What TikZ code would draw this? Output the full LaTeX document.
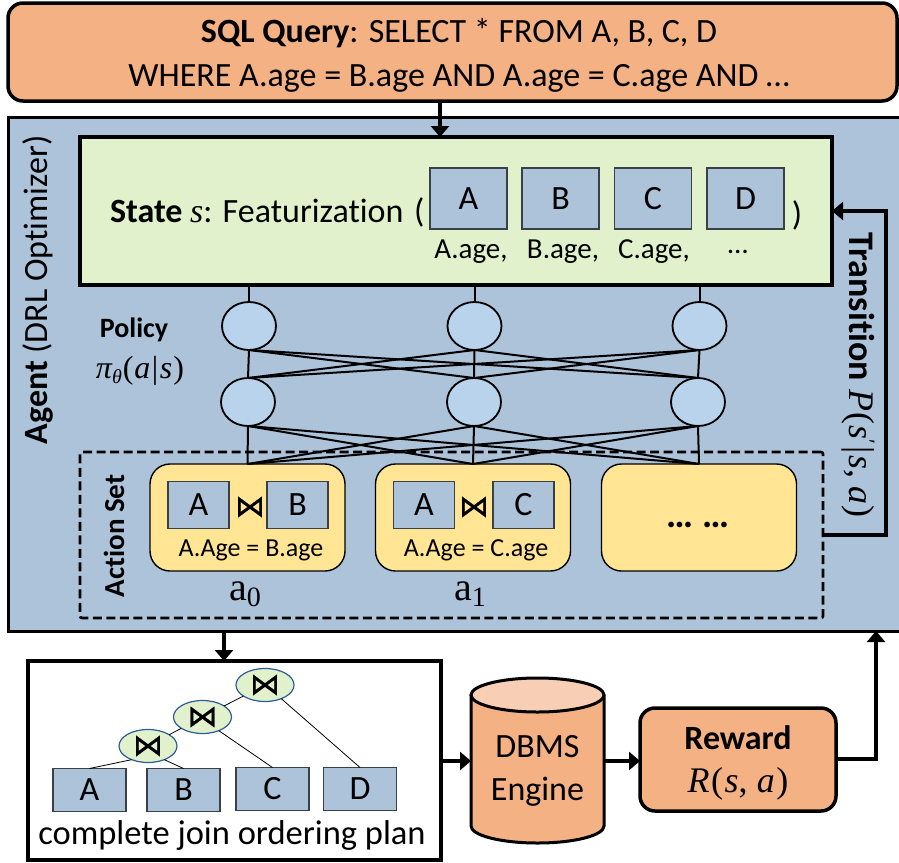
\documentclass[tikz,border=0pt]{standalone}
\usepackage{fontspec}
\setmainfont[Ligatures={NoCommon}]{Carlito}
\newfontfamily\mthf{Liberation Serif}
\newfontfamily\symf[FakeBold=0.7]{DejaVu Sans}
\newcommand{\fs}[1]{\fontsize{#1}{#1}\selectfont}
\newcommand{\mv}[1]{{\mthf\itshape #1}}
\newcommand{\mr}[1]{{\mthf #1}}
\newcommand{\lowtxt}[3]{\raisebox{-#1pt}{\fs{#2}#3}}
\definecolor{orangef}{HTML}{F4B183}
\definecolor{orangel}{HTML}{F8CFB5}
\definecolor{bluef}{HTML}{ADC3DA}
\definecolor{greenf}{HTML}{E0F1CB}
\definecolor{yellowf}{HTML}{FFE594}
\definecolor{circf}{HTML}{B8D3EB}
\definecolor{ellb}{HTML}{2F5D9A}
\definecolor{tabl}{HTML}{3A4048}
\tikzset{
  x=1pt,y=-1pt,
  every node/.style={inner sep=0pt,outer sep=0pt,text=black},
  orangebox/.style={draw=black,fill=orangef,rounded corners=15pt,line width=3.5pt},
  tabbox/.style={draw=tabl,fill=bluef,line width=1.2pt,font=\fs{34}},
  smalltab/.style={tabbox,minimum width=77pt,minimum height=61pt},
  acttab/.style={tabbox,minimum width=61pt,minimum height=47pt},
  plantab/.style={tabbox,minimum width=73pt,minimum height=43pt},
  neuron/.style={ellipse,draw=black,fill=circf,line width=1.8pt,minimum width=54pt,minimum height=48pt},
  actbox/.style={draw=black,fill=yellowf,rounded corners=20pt,line width=1.4pt,minimum width=195pt,minimum height=107pt},
  joinnode/.style={ellipse,draw=ellb,fill=greenf,line width=1.2pt,minimum width=58pt,minimum height=33pt,font=\fs{30}\symf},
  nnedge/.style={line width=2pt},
  treeedge/.style={line width=0.8pt},
  flow/.style={line width=3.5pt,-{Triangle[length=11pt,width=18pt]}},
}
\usetikzlibrary{arrows.meta,shapes.geometric}
\begin{document}
\begin{tikzpicture}
\useasboundingbox (0,0) rectangle (899,862);
\clip (0,0) rectangle (899,862);

% Query
\node[orangebox,minimum width=889pt,minimum height=98pt] (query) at (452.5,52) {};
\node[font=\fs{34},align=center] (querytext) at (459,55)
  {\textbf{SQL Query}: SELECT * FROM A, B, C, D\\[10pt]WHERE A.age = B.age AND A.age = C.age AND …};

% Agent panel
\node[fill=bluef,minimum width=899pt,minimum height=514pt] (agent) at (457.5,374) {};
\draw[line width=3pt] (906,117) -- (8,117) -- (8,631) -- (906,631);

\node[rotate=90,font=\fs{34}] (agentlabel) at (38,290) {\textbf{Agent} (DRL Optimizer)};

% State
\node[draw=black,fill=greenf,line width=4pt,minimum width=752pt,minimum height=148pt] (state) at (456,211) {};
\node[anchor=west,font=\fs{34}] (statelabel) at (110,212) {\textbf{State} \mv{s}: Featurization\kern3pt\ (};
\node[smalltab] (ta) at (468.5,198.5) {A};
\node[smalltab] (tb) at (560.5,198.5) {B};
\node[smalltab] (tc) at (653,198.5) {C};
\node[smalltab] (td) at (745.5,198.5) {D};
\node[font=\fs{34}] (close) at (797,215) {)};
\node[font=\fs{29}] (la) at (471,252) {A.age,};
\node[font=\fs{29}] (lb) at (563,252) {B.age,};
\node[font=\fs{29}] (lc) at (654,252) {C.age,};
\node[font=\fs{29}] (ld) at (738,252) {…};

% Action set
\node[draw=black,dashed,dash pattern=on 9pt off 4.5pt,line width=2.6pt,rounded corners=2pt,minimum width=743pt,minimum height=166pt] (actionset) at (451.5,535) {};
\node[rotate=90,font=\fs{29}\bfseries] (actionlabel) at (114,536) {Action Set};
\node[actbox] (a0) at (247.5,517.5) {};
\node[actbox] (a1) at (473,517.5) {};
\node[actbox] (a2) at (699,517.5) {};
\node[font=\fs{38}\bfseries] (adots) at (698,525) {… …};
\node[acttab] (a0a) at (198.5,505) {A};
\node[acttab] (a0b) at (297.5,505) {B};
\node[font=\fs{30}\symf] (a0j) at (250,507) {⋈};
\node[font=\fs{26}] (a0t) at (251,550) {A.Age = B.age};
\node[acttab] (a1a) at (424,505) {A};
\node[acttab] (a1c) at (523.5,505) {C};
\node[font=\fs{30}\symf] (a1j) at (474,507) {⋈};
\node[font=\fs{26}] (a1t) at (476,550) {A.Age = C.age};
\node[font=\fs{40}\mthf] (a0s) at (245,594) {a\lowtxt{6}{28}{0}};
\node[font=\fs{40}\mthf] (a1s) at (470,594) {a\lowtxt{6}{28}{1}};

% Network
\node[neuron] (p1) at (249,326) {};
\node[neuron] (p2) at (474.5,326) {};
\node[neuron] (p3) at (699.5,326) {};
\node[neuron] (q1) at (248,402) {};
\node[neuron] (q2) at (474,402) {};
\node[neuron] (q3) at (698,402) {};
\draw[nnedge] (p1.north) -- (p1.north |- state.south);
\draw[nnedge] (p2.north) -- (p2.north |- state.south);
\draw[nnedge] (p3.north) -- (p3.north |- state.south);
\foreach \i in {1,2,3}{\foreach \j in {1,2,3}{
  \draw[nnedge] (p\i.south) -- (q\j.north);
}}
\foreach \i in {1,2,3}{\foreach \j [evaluate=\j as \k using int(\j-1)] in {1,2,3}{
  \draw[nnedge] (q\i.south) -- (a\k.north);
}}
\node[font=\fs{28}\bfseries] (policy) at (134,330) {Policy};
\node[font=\fs{32}] (policym) at (140,371) {\mv{π}\lowtxt{5}{20}{\mv{θ}}\kern1pt\mr{(}\kern1pt\mv{a}\kern1.5pt\mr{|}\kern1.5pt\mv{s}\kern1pt\mr{)}};

% Transition
\node[rotate=-90,font=\fs{36}] (translabel) at (858,375) {\textbf{Transition} \mv{P}\kern1pt\mr{(}\kern1pt\mv{s}\raisebox{11pt}{\fs{22}\mthf′}\kern3pt\mr{|}\kern1pt\mv{s}\mr{,} \mv{a}\kern1pt\mr{)}};
\coordinate (transfrom) at (actionset.east |- 0,535);
\coordinate (transrise) at (886,535);
\draw[line width=3.2pt,-{Triangle[length=11pt,width=18pt]}] (transfrom) -- (transrise) |- (state.east |- 0,211);

% Plan
\node[draw=black,fill=white,line width=3.5pt,minimum width=413pt,minimum height=199pt] (plan) at (234.5,760.5) {};
\node[plantab] (pa) at (89.5,790) {A};
\node[plantab] (pb) at (183.5,790) {B};
\node[plantab] (pc) at (272.5,789) {C};
\node[plantab] (pd) at (360,789) {D};
\node[joinnode] (j3) at (265,685) {⋈};
\node[joinnode] (j2) at (202.5,717) {⋈};
\node[joinnode] (j1) at (148,746) {⋈};
\draw[treeedge] (j3) -- (j2);
\draw[treeedge] (j2) -- (j1);
\draw[treeedge] (j3.-40) -- (pd.north);
\draw[treeedge] (j2.-40) -- (pc.north);
\draw[treeedge] (j1.-140) -- (pa.north);
\draw[treeedge] (j1.-40) -- (pb.north);
\node[font=\fs{34.5}] (plantext) at (232,835) {complete join ordering plan};

% Engine
\draw[line width=3pt,fill=orangef] (471,695) -- (471,826) arc[start angle=180,end angle=360,x radius=66.5,y radius=-17] -- (604,695);
\draw[line width=3pt,fill=orangel] (537.5,695) ellipse[x radius=66.5,y radius=17];
\node[minimum width=133pt,minimum height=132pt,font=\fs{34},align=center] (engine) at (537.5,771) {DBMS\\[9pt]Engine};

% Reward
\node[orangebox,line width=3.5pt,minimum width=196pt,minimum height=103pt] (reward) at (738,759.5) {};
\node[font=\fs{34},align=center] (rewardtext) at (738,763)
  {\textbf{Reward}\\[9pt]{\fs{36}\mv{R}\kern1.5pt\mr{(}\kern1.5pt\mv{s}\mr{,} \kern1pt\mv{a}\kern1.5pt\mr{)}}};

% Flows
\draw[flow] (query.south -| 440,0) -- (state.north -| 440,0);
\draw[flow] (agent.south -| 224,0) -- (plan.north -| 224,0);
\draw[flow] (plan.east |- 0,761) -- (engine.west |- 0,761);
\draw[flow] (engine.east |- 0,761) -- (reward.west |- 0,761);
\coordinate (rewardup) at (876,759);
\draw[line width=3.2pt,-{Triangle[length=11pt,width=18pt]}] (reward.east |- 0,759) -- (rewardup) -- (rewardup |- agent.south);
\end{tikzpicture}
\end{document}
